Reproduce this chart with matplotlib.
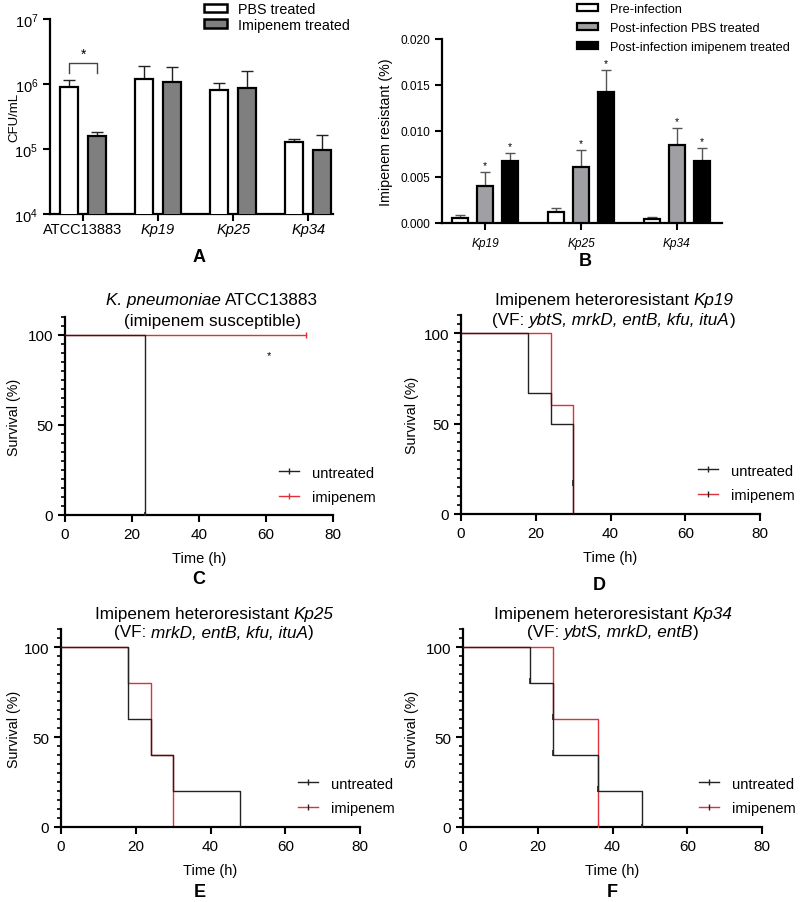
import matplotlib
matplotlib.use("Agg")
import matplotlib.pyplot as plt
import numpy as np
from matplotlib.lines import Line2D
from matplotlib.patches import Patch
from matplotlib.ticker import MultipleLocator, LogLocator, NullLocator, FormatStrFormatter

plt.rcParams["font.family"] = ["Liberation Sans", "DejaVu Sans"]

W, H = 800, 903

# Panel A: CFU/mL
strains_a = ["ATCC13883", "Kp19", "Kp25", "Kp34"]
pbs_cfu = [9.0e5, 1.2e6, 8.2e5, 1.29e5]
pbs_cfu_err = [2.6e5, 6.6e5, 2.0e5, 1.5e4]
imi_cfu = [1.6e5, 1.06e6, 8.7e5, 9.8e4]
imi_cfu_err = [2.3e4, 7.4e5, 6.9e5, 6.9e4]

# Panel B: imipenem resistant (%)
strains_b = ["Kp19", "Kp25", "Kp34"]
pre_inf = [0.00054, 0.00116, 0.00040]
pre_inf_err = [0.00029, 0.00051, 0.00020]
post_pbs = [0.00399, 0.00605, 0.00848]
post_pbs_err = [0.00151, 0.00185, 0.00182]
post_imi = [0.00670, 0.01428, 0.00678]
post_imi_err = [0.00090, 0.00239, 0.00142]

# Panels C-F: survival steps (time h, survival %); titles as (text, italic) pieces
surv_titles = [
    ([("K. pneumoniae", True), (" ATCC13883", False)],
     [("(imipenem susceptible)", False)]),
    ([("Imipenem heteroresistant ", False), ("Kp19", True)],
     [("(VF: ", False), ("ybtS, mrkD, entB, kfu, ituA", True), (")", False)]),
    ([("Imipenem heteroresistant ", False), ("Kp25", True)],
     [("(VF: ", False), ("mrkD, entB, kfu, ituA", True), (")", False)]),
    ([("Imipenem heteroresistant ", False), ("Kp34", True)],
     [("(VF: ", False), ("ybtS, mrkD, entB", True), (")", False)]),
]
untreated_t = [[0, 24], [0, 18, 24, 30], [0, 18, 24, 30, 48], [0, 18, 24, 36, 48]]
untreated_s = [[100, 0], [100, 67, 50, 0], [100, 60, 40, 20, 0], [100, 80, 40, 20, 0]]
imipenem_t = [[0, 72], [0, 24, 30], [0, 18, 24, 30], [0, 24, 36]]
imipenem_s = [[100, 100], [100, 60, 0], [100, 80, 40, 0], [100, 60, 0]]
untreated_ticks = [[(24, 0)], [(30, 17)], [], [(18, 81), (24, 61), (24, 41), (36, 21), (48, 0)]]
imipenem_ticks = [[(72, 100)], [], [], [(36, 0)]]

RED = "#e0303a"
DARK = "#222222"


def px_axes(fig, l, t, r, b):
    return fig.add_axes([l / W, 1 - b / H, (r - l) / W, (b - t) / H])


def style_spines(ax, lw=1.6):
    for s in ["top", "right"]:
        ax.spines[s].set_visible(False)
    for s in ["left", "bottom"]:
        ax.spines[s].set_linewidth(lw)


def rich_text(fig, xc, yc, pieces, fontsize):
    """Centre a line made of upright/italic pieces at pixel (xc, yc)."""
    r = fig.canvas.get_renderer()

    def width(s, it):
        t = fig.text(0, 0, s, fontsize=fontsize, fontstyle="italic" if it else "normal")
        w = t.get_window_extent(renderer=r).width
        t.remove()
        return w

    space = width("a a", False) - width("aa", False)
    layout = []
    x = 0.0
    for s, it in pieces:
        if s.startswith(" "):
            x += space
        core = s.strip()
        layout.append((x, core, it))
        x += width(core, it)
        if s.endswith(" "):
            x += space
    x0 = xc - x / 2
    for dx, core, it in layout:
        fig.text((x0 + dx) / W, 1 - yc / H, core, fontsize=fontsize, va="center", ha="left",
                 fontstyle="italic" if it else "normal")


fig = plt.figure(figsize=(W / 100, H / 100), dpi=100)

# ---------- Panel A ----------
ax = px_axes(fig, 50, 20, 333, 215)
style_spines(ax)
x = np.arange(len(strains_a))
off, bw = 0.19, 0.24
ax.bar(x - off, pbs_cfu, bw, color="white", edgecolor="black", linewidth=1.6, zorder=3)
ax.bar(x + off, imi_cfu, bw, color="#7f7f7f", edgecolor="black", linewidth=1.6, zorder=3)
ax.errorbar(x - off, pbs_cfu, yerr=[np.zeros(4), pbs_cfu_err], fmt="none",
            ecolor=DARK, elinewidth=1.0, capsize=4, capthick=1.0, zorder=2)
ax.errorbar(x + off, imi_cfu, yerr=[np.zeros(4), imi_cfu_err], fmt="none",
            ecolor=DARK, elinewidth=1.0, capsize=4, capthick=1.0, zorder=2)
ax.set_yscale("log")
ax.set_ylim(1e4, 1e7)
ax.set_xlim(-0.44, 3.33)
ax.yaxis.set_major_locator(LogLocator(base=10))
ax.yaxis.set_minor_locator(NullLocator())
ax.set_xticks(x)
ax.set_xticklabels(strains_a)
for lab in ax.get_xticklabels()[1:]:
    lab.set_fontstyle("italic")
ax.tick_params(axis="both", direction="out", length=5, width=1.5, labelsize=10.5)
ax.tick_params(axis="x", pad=1)
ax.set_ylabel("CFU/mL", fontsize=9.5)
ax.yaxis.set_label_coords((20 - 50) / 283, 0.5)
# significance bracket
ax.plot([-off, -off, off, off], [1.5e6, 2.1e6, 2.1e6, 1.5e6], color="#444444", lw=1.0)
ax.text(0, 2.3e6, "*", ha="center", va="bottom", fontsize=10)
fig.legend(handles=[Patch(facecolor="white", edgecolor="black", linewidth=1.8, label="PBS treated"),
                    Patch(facecolor="#7f7f7f", edgecolor="black", linewidth=1.8, label="Imipenem treated")],
           loc="upper left", bbox_to_anchor=(204 / W, 1 - 3 / H), frameon=False, fontsize=10.3,
           handlelength=1.6, handleheight=0.55, handletextpad=0.8, labelspacing=0.12,
           borderpad=0, borderaxespad=0)
fig.text(199 / W, 1 - 257 / H, "A", ha="center", va="center", fontsize=13, fontweight="bold")

# ---------- Panel B ----------
ax = px_axes(fig, 442, 40, 722, 224)
style_spines(ax)
x = np.arange(len(strains_b))
off, bw = 0.26, 0.17
groups = [(pre_inf, pre_inf_err, "white", False),
          (post_pbs, post_pbs_err, "#a0a0a4", True),
          (post_imi, post_imi_err, "black", True)]
for i, (vals, errs, col, star) in enumerate(groups):
    xs = x + (i - 1) * off
    ax.bar(xs, vals, bw, color=col, edgecolor="black", linewidth=1.6, zorder=3)
    ax.errorbar(xs, vals, yerr=[np.zeros(3), errs], fmt="none", ecolor="#555555",
                elinewidth=1.0, capsize=3.5, capthick=1.0, zorder=2)
    if star:
        for xi, v, e in zip(xs, vals, errs):
            ax.text(xi, v + e + 0.0002, "*", ha="center", va="bottom", fontsize=7.5)
ax.set_ylim(0, 0.02)
ax.set_xlim(-0.45, 2.47)
ax.yaxis.set_major_locator(MultipleLocator(0.005))
ax.yaxis.set_major_formatter(FormatStrFormatter("%.3f"))
ax.set_xticks(x)
ax.set_xticklabels(strains_b, fontstyle="italic")
ax.tick_params(axis="both", direction="out", length=5, width=1.5, labelsize=8.6)
ax.tick_params(axis="x", pad=5)
ax.set_ylabel("Imipenem resistant (%)", fontsize=10.3)
ax.yaxis.set_label_coords((393 - 442) / 280, 0.5)
fig.legend(handles=[Patch(facecolor="white", edgecolor="black", linewidth=1.6, label="Pre-infection"),
                    Patch(facecolor="#a0a0a4", edgecolor="black", linewidth=1.6, label="Post-infection PBS treated"),
                    Patch(facecolor="black", edgecolor="black", linewidth=1.6, label="Post-infection imipenem treated")],
           loc="upper left", bbox_to_anchor=(577 / W, 1 - 4 / H), frameon=False, fontsize=9.2,
           handlelength=1.65, handleheight=0.45, handletextpad=0.95, labelspacing=0.55,
           borderpad=0, borderaxespad=0)
fig.text(585 / W, 1 - 262 / H, "B", ha="center", va="center", fontsize=13, fontweight="bold")

# ---------- Panels C-F ----------
surv_boxes = [(65, 318, 333, 516), (461, 316, 760, 515), (61, 630, 360, 828), (463, 630, 762, 828)]
title_pos = [(212, 301, 322), (614, 301, 321), (214, 614, 633), (613, 614, 633)]
legend_pos = [(279, 486), (698, 484), (298, 797), (699, 797)]
letters = [("C", 199, 580), ("D", 599, 585), ("E", 200, 893), ("F", 612, 893)]

for k in range(4):
    l, t, r, b = surv_boxes[k]
    ax = px_axes(fig, l, t, r, b)
    style_spines(ax)
    ax.step(imipenem_t[k], imipenem_s[k], where="post", color=RED, lw=1.0, zorder=2)
    ax.step(untreated_t[k], untreated_s[k], where="post", color=DARK, lw=1.0, zorder=3)
    for tx, ty in untreated_ticks[k]:
        ax.plot([tx], [ty], marker="|", color=DARK, ms=4, mew=1.2, zorder=4)
    for tx, ty in imipenem_ticks[k]:
        ax.plot([tx], [ty], marker="|", color=RED, ms=4, mew=1.0, zorder=4)
    ax.set_xlim(0, 80)
    ax.set_ylim(0, 110)
    ax.set_xticks([0, 20, 40, 60, 80])
    ax.set_yticks([0, 50, 100])
    ax.yaxis.set_minor_locator(MultipleLocator(5))
    ax.tick_params(axis="both", which="major", direction="out", length=5, width=1.5, labelsize=11)
    ax.tick_params(axis="y", which="minor", direction="out", length=3.2, width=1.2)
    ax.set_xlabel("Time (h)", fontsize=10.5, labelpad=7)
    ax.set_ylabel("Survival (%)", fontsize=10.3)
    ylab_x = 21 if l < 400 else 419
    ax.yaxis.set_label_coords((ylab_x - l) / (r - l), 0.5)
    if k == 0:
        ax.text(61, 89, "*", ha="center", va="center", fontsize=8)
    tx, ty1, ty2 = title_pos[k]
    rich_text(fig, tx, ty1, surv_titles[k][0], 12.3)
    rich_text(fig, tx, ty2, surv_titles[k][1], 12.3)
    hx, hy = legend_pos[k]
    handles = [Line2D([0, 0.5, 1], [0, 0, 0], color=DARK, lw=1.0, marker="|", ms=4,
                      markevery=[1], label="untreated"),
               Line2D([0, 0.5, 1], [0, 0, 0], color=RED, lw=1.0, marker="|", ms=4,
                      mec=DARK if k else RED, markevery=[1], label="imipenem")]
    fig.legend(handles=handles, loc="center left", bbox_to_anchor=(hx / W, 1 - hy / H),
               frameon=False, fontsize=10.5, handlelength=1.4, handletextpad=0.85,
               labelspacing=0.75, borderpad=0, borderaxespad=0)
    name, lx, ly = letters[k]
    fig.text(lx / W, 1 - ly / H, name, ha="center", va="center", fontsize=13, fontweight="bold")

fig.savefig("out.png", dpi=100)
